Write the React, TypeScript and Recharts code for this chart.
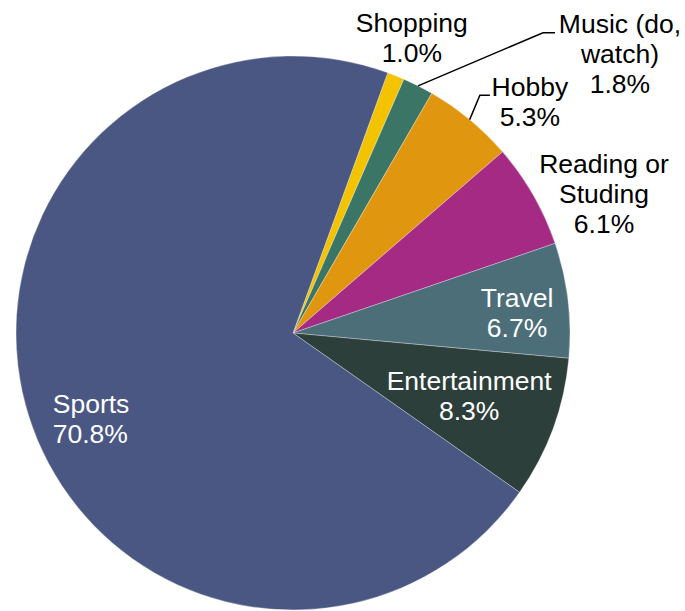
import React from 'react'
import { PieChart, Pie, Cell } from 'recharts'

const categories = ['Shopping', 'Music (do, watch)', 'Hobby', 'Reading or Studing', 'Travel', 'Entertainment', 'Sports']
const shares = [1.0, 1.8, 5.3, 6.1, 6.7, 8.3, 70.8]
const labelLines = [
  ['Shopping'],
  ['Music (do,', 'watch)'],
  ['Hobby'],
  ['Reading or', 'Studing'],
  ['Travel'],
  ['Entertainment'],
  ['Sports']
]

const colors = ['#f3c300', '#3b7566', '#e0960f', '#a52a84', '#4b6e79', '#2c3f3b', '#4a5783']

// where each label block sits, in polar terms around the pie centre
const labelSpots = [
  { r: 318.6, ang: 68.1, anchor: 'middle', fill: '#000' },
  { r: 430, ang: 40.5, anchor: 'middle', fill: '#000', leader: [-77, -21, -65] },
  { r: 331, ang: 44.3, anchor: 'middle', fill: '#000', leader: [-50, -6.5, -40] },
  { r: 341, ang: 24.2, anchor: 'middle', fill: '#000' },
  { r: 225, ang: 5.2, anchor: 'middle', fill: '#fff' },
  { r: 187, ang: -19.6, anchor: 'middle', fill: '#fff' },
  { r: 255, ang: -160.4, anchor: 'start', fill: '#fff' }
]

const data = categories.map((name, i) => ({ name, value: shares[i] }))

const RAD = Math.PI / 180
const LINE_H = 30
const FONT = '"Liberation Sans", Arial, Helvetica, sans-serif'

const renderLabel = (props: any) => {
  const { cx, cy, midAngle, outerRadius, index } = props
  const spot = labelSpots[index]
  const bx = cx + spot.r * Math.cos(spot.ang * RAD)
  const by = cy - spot.r * Math.sin(spot.ang * RAD)
  const lines = [...labelLines[index], `${shares[index].toFixed(1)}%`]
  const n = lines.length
  let leader = null
  if (spot.leader) {
    const sx = cx + outerRadius * Math.cos(midAngle * RAD)
    const sy = cy - outerRadius * Math.sin(midAngle * RAD)
    const [ex, ey, tx] = spot.leader
    leader = (
      <polyline
        points={`${sx},${sy} ${bx + ex},${by + ey} ${bx + tx},${by + ey}`}
        fill="none"
        stroke="#000"
        strokeWidth={1.5}
      />
    )
  }
  return (
    <g key={`lbl-${index}`}>
      {leader}
      <text
        x={bx}
        y={by}
        textAnchor={spot.anchor}
        fill={spot.fill}
        fontFamily={FONT}
        fontSize={26.5}
      >
        {lines.map((t, i) => (
          <tspan key={i} x={bx} y={by + 9.5 + (i - (n - 1) / 2) * LINE_H}>
            {t}
          </tspan>
        ))}
      </text>
    </g>
  )
}

export default function App() {
  return (
    <div style={{ position: 'fixed', left: 0, top: 0, background: '#fff' }}>
      <PieChart width={685} height={611} margin={{ top: 0, right: 0, bottom: 0, left: 0 }}>
        <Pie
          data={data}
          dataKey="value"
          nameKey="name"
          cx={293}
          cy={333}
          outerRadius={277}
          startAngle={70}
          endAngle={-290}
          stroke="rgba(255,255,255,0.3)"
          strokeWidth={1}
          label={renderLabel}
          labelLine={false}
          isAnimationActive={false}
        >
          {data.map((entry, i) => (
            <Cell key={`cell-${i}`} fill={colors[i]} />
          ))}
        </Pie>
      </PieChart>
    </div>
  )
}
